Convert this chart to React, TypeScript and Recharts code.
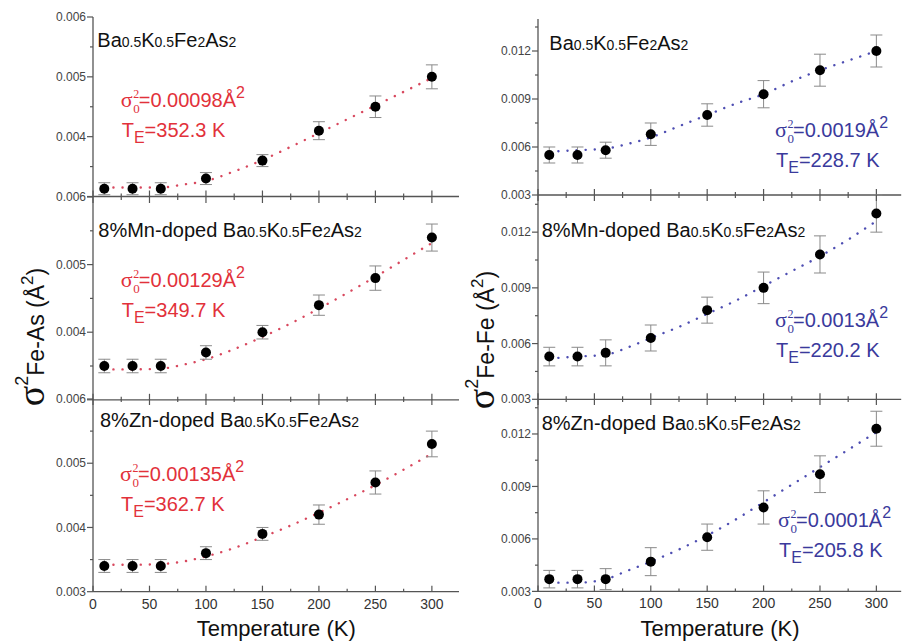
import React from "react";
import { ComposedChart, Scatter, Line, XAxis, YAxis, ErrorBar } from "recharts";

// ---------- data ----------
const TEMPS = [10, 35, 60, 100, 150, 200, 250, 300];
const FIT_T = [10, 35, 60, 80, 100, 125, 150, 175, 200, 225, 250, 275, 300];

const asBase = [0.00313, 0.00313, 0.00313, 0.0033, 0.0036, 0.0041, 0.0045, 0.005];
const asBaseErr = [0.0001, 0.0001, 0.0001, 0.0001, 0.0001, 0.00015, 0.00018, 0.0002];
const asBaseFit = [0.00315, 0.00315, 0.00315, 0.0032, 0.00326, 0.00342, 0.00361, 0.00383, 0.00406, 0.00429, 0.00452, 0.00475, 0.00498];

const asMn = [0.0035, 0.0035, 0.0035, 0.0037, 0.004, 0.0044, 0.0048, 0.0054];
const asMnErr = [0.0001, 0.0001, 0.0001, 0.0001, 0.0001, 0.00015, 0.00018, 0.0002];
const asMnFit = [0.00345, 0.00345, 0.00346, 0.00352, 0.0036, 0.00375, 0.00393, 0.00413, 0.00435, 0.00458, 0.00482, 0.00507, 0.00532];

const asZn = [0.0034, 0.0034, 0.0034, 0.0036, 0.0039, 0.0042, 0.0047, 0.0053];
const asZnErr = [0.0001, 0.0001, 0.0001, 0.0001, 0.0001, 0.00015, 0.00018, 0.0002];
const asZnFit = [0.00342, 0.00342, 0.00343, 0.00347, 0.00355, 0.00368, 0.00385, 0.00403, 0.00423, 0.00444, 0.00466, 0.0049, 0.00515];

const feBase = [0.0055, 0.0055, 0.0058, 0.0068, 0.008, 0.0093, 0.0108, 0.012];
const feBaseErr = [0.0005, 0.0005, 0.0005, 0.0007, 0.0007, 0.00085, 0.001, 0.001];
const feBaseFit = [0.0057, 0.0058, 0.0059, 0.0062, 0.0066, 0.0073, 0.008, 0.0087, 0.0093, 0.0101, 0.0108, 0.0114, 0.012];

const feMn = [0.0053, 0.0053, 0.0055, 0.0063, 0.0078, 0.009, 0.0108, 0.013];
const feMnErr = [0.0005, 0.0005, 0.0007, 0.0007, 0.0007, 0.00085, 0.001, 0.001];
const feMnFit = [0.0052, 0.0053, 0.0054, 0.0058, 0.0063, 0.0069, 0.0076, 0.0083, 0.0091, 0.0099, 0.0107, 0.0116, 0.0126];

const feZn = [0.0037, 0.0037, 0.0037, 0.0047, 0.0061, 0.0078, 0.0097, 0.0123];
const feZnErr = [0.0005, 0.0005, 0.0006, 0.0008, 0.00075, 0.00095, 0.00105, 0.001];
const feZnFit = [0.0035, 0.0035, 0.0037, 0.0042, 0.0047, 0.0054, 0.0062, 0.0071, 0.0081, 0.0091, 0.0101, 0.0111, 0.0121];

const X_MAJOR = [0, 50, 100, 150, 200, 250, 300];
const X_MINOR = [25, 75, 125, 175, 225, 275];
const AS_MAJOR = [0.003, 0.004, 0.005, 0.006];
const AS_MINOR = [0.0035, 0.0045, 0.0055];
const FE_MAJOR = [0.003, 0.006, 0.009, 0.012];
const FE_MINOR = [0.0045, 0.0075, 0.0105, 0.0135];

const PARAMS = {
  asBase: { s: "0.00098", t: "352.3" },
  asMn: { s: "0.00129", t: "349.7" },
  asZn: { s: "0.00135", t: "362.7" },
  feBase: { s: "0.0019", t: "228.7" },
  feMn: { s: "0.0013", t: "220.2" },
  feZn: { s: "0.0001", t: "205.8" },
};

// ---------- style ----------
const SANS = "'Liberation Sans', Arial, Helvetica, sans-serif";
const SERIF = "'Liberation Serif', 'Times New Roman', serif";
const AX = "#555";
const RED = "#e2313a";
const RED_DOT = "#d8485e";
const BLUE = "#3a3a9c";
const BLUE_DOT = "#4e4eb2";

const WY = 60;
const MT = 6;
const MR = 6;
const HX = 30;

const mkPts = (vals: number[], errs: number[]) => TEMPS.map((x, i) => ({ x, y: vals[i], err: errs[i] }));
const mkFit = (vals: number[]) => FIT_T.map((x, i) => ({ x, y: vals[i] }));
const near = (a: number, list: number[]) => list.some((b) => Math.abs(a - b) < 1e-9);

type PanelProps = {
  pts: { x: number; y: number; err: number }[];
  fit: { x: number; y: number }[];
  pl: number;
  pt: number;
  pw: number;
  ph: number;
  xMax: number;
  yDomain: [number, number];
  yMajor: number[];
  yMinor: number[];
  yLabeled: number[];
  showXLabels: boolean;
  topTicks: boolean;
  topBorder: boolean;
  rightBorder: boolean;
  fitColor: string;
};

function Panel(p: PanelProps) {
  const bottom = MT + p.ph;
  const xTicks = [...X_MAJOR, ...X_MINOR].sort((a, b) => a - b);
  const yTicks = [...p.yMajor, ...p.yMinor].sort((a, b) => a - b);

  const renderXTick = (props: any) => {
    const v = props.payload.value;
    const cx = props.payload.coordinate ?? props.x;
    const major = near(v, X_MAJOR);
    const len = major ? 6 : 3;
    return (
      <g>
        <line x1={cx} x2={cx} y1={bottom} y2={bottom - len} stroke={AX} strokeWidth={1.2} />
        {p.topTicks && <line x1={cx} x2={cx} y1={MT} y2={MT + len} stroke={AX} strokeWidth={1.2} />}
        {p.showXLabels && major && (
          <text x={cx} y={bottom + 12} dy="0.35em" textAnchor="middle" fontSize={14} fontFamily={SANS} fill="#333">
            {v}
          </text>
        )}
      </g>
    );
  };

  const renderYTick = (props: any) => {
    const v = props.payload.value;
    const cy = props.payload.coordinate ?? props.y;
    const major = near(v, p.yMajor);
    const len = major ? 6 : 3;
    return (
      <g>
        <line x1={WY - len} x2={WY} y1={cy} y2={cy} stroke={AX} strokeWidth={1.2} />
        {major && near(v, p.yLabeled) && (
          <text x={WY - 7} y={cy} dy="0.35em" textAnchor="end" fontSize={12} fontFamily={SANS} fill="#444">
            {v.toFixed(3)}
          </text>
        )}
      </g>
    );
  };

  return (
    <div style={{ position: "absolute", left: p.pl - WY, top: p.pt - MT }}>
      <ComposedChart
        width={WY + p.pw + MR}
        height={MT + p.ph + HX}
        margin={{ top: MT, right: MR, bottom: 0, left: 0 }}
      >
        <XAxis
          xAxisId="b"
          type="number"
          dataKey="x"
          domain={[0, p.xMax]}
          allowDataOverflow
          ticks={xTicks}
          interval={0}
          height={HX}
          tickLine={false}
          axisLine={{ stroke: AX, strokeWidth: 1.3 }}
          tick={renderXTick}
        />
        <XAxis
          xAxisId="t"
          orientation="top"
          type="number"
          domain={[0, p.xMax]}
          allowDataOverflow
          height={0}
          tick={false}
          tickLine={false}
          axisLine={p.topBorder ? { stroke: AX, strokeWidth: 1.3 } : false}
        />
        <YAxis
          yAxisId="l"
          type="number"
          dataKey="y"
          domain={p.yDomain}
          allowDataOverflow
          ticks={yTicks}
          interval={0}
          width={WY}
          tickLine={false}
          axisLine={{ stroke: AX, strokeWidth: 1.3 }}
          tick={renderYTick}
        />
        <YAxis
          yAxisId="r"
          orientation="right"
          type="number"
          domain={p.yDomain}
          allowDataOverflow
          width={0}
          tick={false}
          tickLine={false}
          axisLine={p.rightBorder ? { stroke: AX, strokeWidth: 1.3 } : false}
        />
        <Line
          xAxisId="b"
          yAxisId="l"
          data={p.fit}
          dataKey="y"
          type="monotone"
          stroke={p.fitColor}
          strokeWidth={2.4}
          strokeDasharray="0.1 9"
          strokeLinecap="round"
          dot={false}
          activeDot={false}
          isAnimationActive={false}
        />
        <Scatter
          xAxisId="b"
          yAxisId="l"
          data={p.pts}
          dataKey="y"
          fill="#000"
          isAnimationActive={false}
          shape={(s: any) => <circle cx={s.cx} cy={s.cy} r={5} fill="#000" />}
        >
          <ErrorBar dataKey="err" direction="y" width={6} stroke="#8a8a8a" strokeWidth={1} />
        </Scatter>
      </ComposedChart>
    </div>
  );
}

function Formula({ x, y, prefix }: { x: number; y: number; prefix?: string }) {
  return (
    <text x={x} y={y} fontSize={20} fontFamily={SANS} fill="#111">
      {prefix}
      <tspan>Ba</tspan>
      <tspan fontSize={14}>0.5</tspan>
      <tspan>K</tspan>
      <tspan fontSize={14}>0.5</tspan>
      <tspan>Fe</tspan>
      <tspan fontSize={14}>2</tspan>
      <tspan>As</tspan>
      <tspan fontSize={14}>2</tspan>
    </text>
  );
}

function Params({ x, y, s, t, color }: { x: number; y: number; s: string; t: string; color: string }) {
  return (
    <g fill={color}>
      <text x={x} y={y} fontFamily={SERIF} fontSize={22}>σ</text>
      <text x={x + 12.5} y={y - 9} fontFamily={SERIF} fontSize={12}>2</text>
      <text x={x + 12.5} y={y + 6} fontFamily={SERIF} fontSize={13}>0</text>
      <text x={x + 18} y={y} fontFamily={SANS} fontSize={20}>
        ={s}Å
        <tspan fontSize={16} dy={-9}>2</tspan>
      </text>
      <text x={x + 1} y={y + 30} fontFamily={SANS} fontSize={20}>
        T<tspan fontSize={16} dy={6}>E</tspan>
        <tspan dy={-6}>={t} K</tspan>
      </text>
    </g>
  );
}

function YTitle({ x, y, sub }: { x: number; y: number; sub: string }) {
  return (
    <text transform={`translate(${x},${y}) rotate(-90)`} textAnchor="middle" fontFamily={SANS} fontSize={23} fill="#111">
      <tspan fontFamily={SERIF} fontSize={38}>σ</tspan>
      <tspan fontSize={18} dy={-16}>2</tspan>
      <tspan dy={16}>{sub} (Å</tspan>
      <tspan fontSize={17} dy={-11}>2</tspan>
      <tspan dy={11}>)</tspan>
    </text>
  );
}

export default function App() {
  const L = { pl: 93.3, pw: 366, xMax: 324 };
  const R = { pl: 538.3, pw: 363.2, xMax: 322 };
  const asDom: [number, number] = [0.003, 0.006];
  const feDom: [number, number] = [0.003, 0.014];
  return (
    <div style={{ position: "absolute", left: 0, top: 0, width: 902, height: 643, overflow: "hidden", background: "#fff" }}>
      <Panel {...L} pt={17} ph={179.5} pts={mkPts(asBase, asBaseErr)} fit={mkFit(asBaseFit)} yDomain={asDom}
        yMajor={AS_MAJOR} yMinor={AS_MINOR} yLabeled={[0.004, 0.005, 0.006]} showXLabels={false} topTicks={false}
        topBorder rightBorder fitColor={RED_DOT} />
      <Panel {...L} pt={196.5} ph={202.8} pts={mkPts(asMn, asMnErr)} fit={mkFit(asMnFit)} yDomain={asDom}
        yMajor={AS_MAJOR} yMinor={AS_MINOR} yLabeled={[0.004, 0.005, 0.006]} showXLabels={false} topTicks
        topBorder rightBorder fitColor={RED_DOT} />
      <Panel {...L} pt={399.3} ph={192.7} pts={mkPts(asZn, asZnErr)} fit={mkFit(asZnFit)} yDomain={asDom}
        yMajor={AS_MAJOR} yMinor={AS_MINOR} yLabeled={AS_MAJOR} showXLabels topTicks
        topBorder rightBorder fitColor={RED_DOT} />
      <Panel {...R} pt={19} ph={176} pts={mkPts(feBase, feBaseErr)} fit={mkFit(feBaseFit)} yDomain={feDom}
        yMajor={FE_MAJOR} yMinor={FE_MINOR} yLabeled={FE_MAJOR} showXLabels={false} topTicks={false}
        topBorder rightBorder={false} fitColor={BLUE_DOT} />
      <Panel {...R} pt={195} ph={204.3} pts={mkPts(feMn, feMnErr)} fit={mkFit(feMnFit)} yDomain={feDom}
        yMajor={FE_MAJOR} yMinor={FE_MINOR} yLabeled={FE_MAJOR} showXLabels={false} topTicks
        topBorder rightBorder={false} fitColor={BLUE_DOT} />
      <Panel {...R} pt={399.3} ph={192.4} pts={mkPts(feZn, feZnErr)} fit={mkFit(feZnFit)} yDomain={feDom}
        yMajor={FE_MAJOR} yMinor={FE_MINOR} yLabeled={FE_MAJOR} showXLabels topTicks
        topBorder rightBorder={false} fitColor={BLUE_DOT} />

      <svg width={902} height={643} style={{ position: "absolute", left: 0, top: 0, pointerEvents: "none" }}>
        <Formula x={97.3} y={46.7} />
        <Formula x={98.3} y={236.7} prefix="8%Mn-doped " />
        <Formula x={100} y={427.3} prefix="8%Zn-doped " />
        <Formula x={549.3} y={50} />
        <Formula x={541.7} y={236.7} prefix="8%Mn-doped " />
        <Formula x={541.7} y={430} prefix="8%Zn-doped " />

        <Params x={120.7} y={107.3} s={PARAMS.asBase.s} t={PARAMS.asBase.t} color={RED} />
        <Params x={120.7} y={286.7} s={PARAMS.asMn.s} t={PARAMS.asMn.t} color={RED} />
        <Params x={120} y={480.7} s={PARAMS.asZn.s} t={PARAMS.asZn.t} color={RED} />
        <Params x={775} y={136.7} s={PARAMS.feBase.s} t={PARAMS.feBase.t} color={BLUE} />
        <Params x={775} y={326.7} s={PARAMS.feMn.s} t={PARAMS.feMn.t} color={BLUE} />
        <Params x={778} y={526.7} s={PARAMS.feZn.s} t={PARAMS.feZn.t} color={BLUE} />

        <YTitle x={44} y={337} sub="Fe-As" />
        <YTitle x={494} y={340} sub="Fe-Fe" />

        <text x={276.3} y={636} textAnchor="middle" fontFamily={SANS} fontSize={22} fill="#111">Temperature (K)</text>
        <text x={720} y={636} textAnchor="middle" fontFamily={SANS} fontSize={22} fill="#111">Temperature (K)</text>
      </svg>
    </div>
  );
}
